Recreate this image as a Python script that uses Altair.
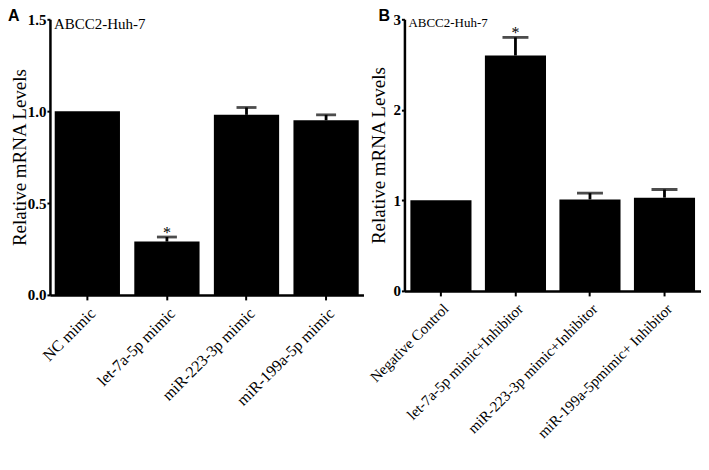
import altair as alt
import pandas as pd

# ---- data ----
cats_a = ["NC mimic", "let-7a-5p mimic", "miR-223-3p mimic", "miR-199a-5p mimic"]
vals_a = [1.00, 0.29, 0.98, 0.95]
errs_a = [0.00, 0.025, 0.04, 0.03]
stars_a = ["", "*", "", ""]

cats_b = ["Negative Control", "let-7a-5p mimic+Inhibitor",
          "miR-223-3p mimic+Inhibitor", "miR-199a-5pmimic+ Inhibitor"]
vals_b = [1.00, 2.60, 1.01, 1.03]
errs_b = [0.00, 0.20, 0.07, 0.09]
stars_b = ["", "*", "", ""]

ticks_a = [0, 0.5, 1.0, 1.5]
ticks_b = [0, 1, 2, 3]

subtitle = "ABCC2-Huh-7"
ytitle = "Relative mRNA Levels"

SERIF = "Liberation Serif"
SANS = "Liberation Sans"


def panel(cats, vals, errs, stars, ymax, tvals, fmt, letter, w, h, po, cap,
          sub_size, sub_y, xlab_size, ylab_size, letter_x, title_x):
    df = pd.DataFrame({"cat": cats, "val": vals, "err": errs, "star": stars})
    df["hi"] = df["val"] + df["err"]
    base = alt.Chart(df)
    xenc = alt.X("cat:N", sort=cats, title=None,
                 scale=alt.Scale(paddingInner=0.18, paddingOuter=po),
                 axis=alt.Axis(labelAngle=-45, labelFont=SERIF, labelFontSize=xlab_size,
                               labelColor="black", labelFontWeight="normal",
                               domainColor="black", domainWidth=2.5,
                               tickColor="black", tickWidth=2, tickSize=5,
                               labelPadding=5, labelLimit=300))
    yscale = alt.Scale(domain=[0, ymax], nice=False, zero=True)
    yaxis = alt.Axis(values=tvals, format=fmt, grid=False, title=ytitle,
                     titleFont=SERIF, titleFontSize=19, titleFontWeight="normal",
                     titleColor="black", titleX=title_x, titleBaseline="alphabetic",
                     labelFont=SERIF, labelFontSize=ylab_size, labelFontWeight="bold",
                     labelColor="black", labelPadding=1,
                     domainColor="black", domainWidth=2.5,
                     tickColor="black", tickWidth=2, tickSize=3)
    bars = base.mark_bar(color="black").encode(
        x=xenc, y=alt.Y("val:Q", scale=yscale, axis=yaxis))
    err = base.transform_filter("datum.err > 0")
    rule = err.mark_rule(color="black", strokeWidth=2.8).encode(
        x=alt.X("cat:N", sort=cats), y="val:Q", y2="hi:Q")
    capm = err.mark_tick(color="black", thickness=2.8, size=cap).encode(
        x=alt.X("cat:N", sort=cats), y="hi:Q")
    star = err.mark_text(font=SERIF, fontSize=16, baseline="bottom", dy=4,
                         color="black").encode(
        x=alt.X("cat:N", sort=cats), y="hi:Q", text="star:N")
    lab = alt.Chart(pd.DataFrame({"t": [letter]})).mark_text(
        font=SANS, fontWeight="bold", fontSize=16, align="left", baseline="top",
        color="black").encode(text="t:N", x=alt.value(letter_x), y=alt.value(-11))
    sub = alt.Chart(pd.DataFrame({"t": [subtitle]})).mark_text(
        font=SERIF, fontSize=sub_size, align="left", baseline="alphabetic",
        color="black").encode(text="t:N", x=alt.value(4), y=alt.value(sub_y))
    return alt.layer(bars, rule, capm, star, lab, sub).properties(width=w, height=h)


pa = panel(cats_a, vals_a, errs_a, stars_a, 1.5, ticks_a, ".1f", "A", 314, 276, 0.06, 20,
           15, 10, 16, 15, -42, -24)
pb = panel(cats_b, vals_b, errs_b, stars_b, 3, ticks_b, "d", "B", 297, 272, 0.08, 26,
           13, 8, 15, 15, -26, -20)

chart = alt.hconcat(pa, pb, spacing=41, bounds="flush").configure_view(stroke=None).properties(
    padding={"left": 0, "top": 0, "right": 0, "bottom": 0})

chart.save("out.html", embed_options={"renderer": "svg", "actions": False})
